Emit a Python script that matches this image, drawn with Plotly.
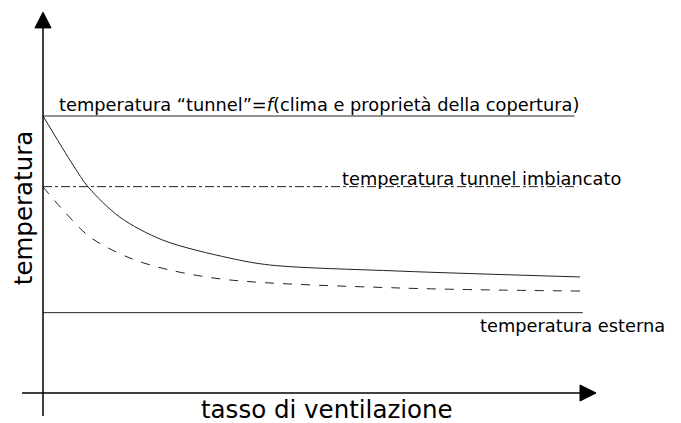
import plotly.graph_objects as go

# Schematic data (x: ventilation rate 0-100, y: temperature, arbitrary units)
vent_solid = [0, 5.6, 8.4, 14.3, 22.3, 34.8, 42.3, 66.5, 100]
temp_tunnel = [100, 82.3, 74.4, 63.5, 55.2, 48.7, 46.2, 44.0, 41.9]

vent_dashed = [0, 3.7, 8.75, 16.2, 23.6, 34.8, 66.5, 100]
temp_whitened = [74.4, 66.1, 56.3, 48.7, 44.4, 40.8, 37.9, 36.8]

level_tunnel = 100
level_whitened = 74.5
level_external = 29

label_tunnel = "temperatura \u201ctunnel\u201d=<i>f</i>(clima e propriet\u00e0 della copertura)"
label_whitened = "temperatura tunnel imbiancato"
label_external = "temperatura esterna"
x_title = "tasso di ventilazione"
y_title = "temperatura"

FONT = "DejaVu Sans, Verdana, sans-serif"
LINE = "#222222"

fig = go.Figure()

# reference levels
fig.add_trace(go.Scatter(x=[0, 99], y=[level_tunnel] * 2, mode="lines",
                         line=dict(color=LINE, width=1), hoverinfo="skip"))
fig.add_trace(go.Scatter(x=[0, 99.5], y=[level_whitened] * 2, mode="lines",
                         line=dict(color=LINE, width=1, dash="dashdot"), hoverinfo="skip"))
fig.add_trace(go.Scatter(x=[0, 100.5], y=[level_external] * 2, mode="lines",
                         line=dict(color=LINE, width=1), hoverinfo="skip"))

# curves
fig.add_trace(go.Scatter(x=vent_solid, y=temp_tunnel, mode="lines",
                         line=dict(color=LINE, width=1, shape="spline", smoothing=0.9),
                         hoverinfo="skip"))
fig.add_trace(go.Scatter(x=vent_dashed, y=temp_whitened, mode="lines",
                         line=dict(color=LINE, width=1, dash="dash", shape="spline", smoothing=0.9),
                         hoverinfo="skip"))

# axes lines with arrows
fig.add_shape(type="line", x0=0, x1=0, y0=-8.3, y1=132, line=dict(color="black", width=1.5))
fig.add_shape(type="line", x0=-3.9, x1=100.2, y0=0, y1=0, line=dict(color="black", width=1.5))
fig.add_shape(type="path", path="M -1.5 131.8 L 1.5 131.8 L 0 137.5 Z",
              fillcolor="black", line=dict(color="black", width=1))
fig.add_shape(type="path", path="M 100 2.9 L 100 -2.9 L 103 0 Z",
              fillcolor="black", line=dict(color="black", width=1))

fig.add_annotation(x=2.6, y=104.0, text=label_tunnel, showarrow=False, xanchor="left",
                   yanchor="middle", font=dict(family=FONT, size=17.8, color="black"))
fig.add_annotation(x=55.3, y=77.3, text=label_whitened, showarrow=False, xanchor="left",
                   yanchor="middle", font=dict(family=FONT, size=17.8, color="black"))
fig.add_annotation(x=81.0, y=24.2, text=label_external, showarrow=False, xanchor="left",
                   yanchor="middle", font=dict(family=FONT, size=17.8, color="black"))
fig.add_annotation(x=52.9, y=-6.1, text=x_title, showarrow=False, xanchor="center",
                   yanchor="middle", font=dict(family=FONT, size=24.5, color="black"))
fig.add_annotation(x=-3.5, y=66.8, text=y_title, showarrow=False, textangle=-90,
                   xanchor="center", yanchor="middle", font=dict(family=FONT, size=24.5, color="black"))

# ranges compensate for the page's 8px body margin
fig.update_layout(
    width=681, height=423, autosize=False,
    margin=dict(l=0, r=0, t=0, b=0),
    paper_bgcolor="white", plot_bgcolor="white",
    showlegend=False,
    xaxis=dict(range=[-6.52, 120.30], visible=False, fixedrange=True),
    yaxis=dict(range=[-13.72, 138.99], visible=False, fixedrange=True),
)

fig.write_html("out.html")
